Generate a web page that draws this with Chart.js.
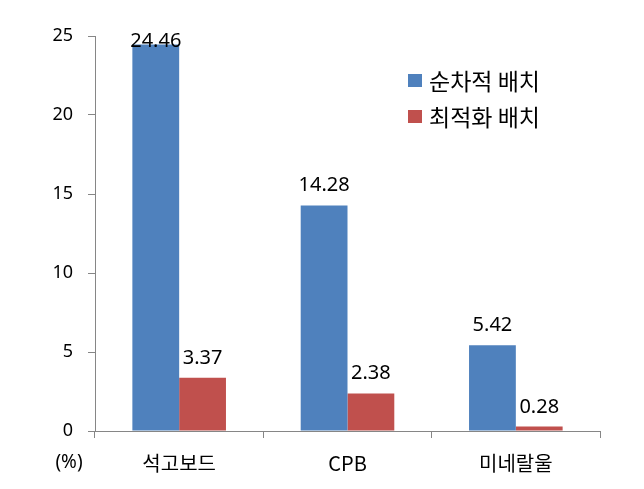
<!DOCTYPE html>
<html>
<head>
<meta charset="utf-8">
<script src="https://cdn.jsdelivr.net/npm/chart.js@4"></script>
<style>
  html, body { margin: 0; padding: 0; background: #fff; }
  #wrap { width: 644px; height: 489px; }
</style>
</head>
<body>
<div id="wrap"><canvas id="chart" width="644" height="489"></canvas></div>
<script>
const categories = ['석고보드', 'CPB', '미네랄울'];
const sequential = [24.46, 14.28, 5.42];
const optimized = [3.37, 2.38, 0.28];
const seriesNames = ['순차적 배치', '최적화 배치'];
const seriesColors = ['#4F81BD', '#C0504D'];
const yTicks = [0, 5, 10, 15, 20, 25];

const KFONT = '"Noto Sans CJK KR", "Noto Sans", sans-serif';
const NFONT = '"Noto Sans", "Noto Sans CJK KR", sans-serif';

// value labels above each bar
const valueLabels = {
    id: 'valueLabels',
    afterDatasetsDraw(chart) {
        const ctx = chart.ctx;
        const top = chart.chartArea.top;
        ctx.save();
        ctx.font = '20px ' + NFONT;
        ctx.fillStyle = '#000';
        ctx.textAlign = 'center';
        ctx.textBaseline = 'alphabetic';
        chart.data.datasets.forEach((ds, i) => {
            chart.getDatasetMeta(i).data.forEach((bar, j) => {
                const y = Math.max(bar.y - 14, top + 11);
                ctx.fillText(ds.data[j].toFixed(2), bar.x, y);
            });
        });
        ctx.restore();
    }
};

// legend inside the plot, top right
const innerLegend = {
    id: 'innerLegend',
    afterDraw(chart) {
        const ctx = chart.ctx;
        ctx.save();
        ctx.font = '23px ' + KFONT;
        ctx.textBaseline = 'middle';
        ctx.textAlign = 'left';
        chart.data.datasets.forEach((ds, i) => {
            const cy = 80 + i * 36;
            ctx.fillStyle = ds.backgroundColor;
            ctx.fillRect(408, cy - 6, 14, 13);
            ctx.fillStyle = '#000';
            ctx.fillText(ds.label, 429, cy + 1);
        });
        ctx.restore();
    }
};

// "(%)" unit label at the bottom left
const unitLabel = {
    id: 'unitLabel',
    afterDraw(chart) {
        const ctx = chart.ctx;
        ctx.save();
        ctx.font = '19px ' + NFONT;
        ctx.fillStyle = '#000';
        ctx.textAlign = 'center';
        ctx.textBaseline = 'middle';
        ctx.fillText('(%)', 69, 463);
        ctx.restore();
    }
};

new Chart(document.getElementById('chart'), {
    type: 'bar',
    data: {
        labels: categories,
        datasets: [
            { label: seriesNames[0], data: sequential, backgroundColor: seriesColors[0] },
            { label: seriesNames[1], data: optimized, backgroundColor: seriesColors[1] }
        ]
    },
    options: {
        responsive: false,
        animation: false,
        layout: { padding: { top: 36, right: 44, left: 0, bottom: 0 } },
        datasets: { bar: { categoryPercentage: 0.556, barPercentage: 1.0 } },
        plugins: {
            legend: { display: false },
            tooltip: { enabled: false }
        },
        scales: {
            x: {
                grid: { display: true, drawOnChartArea: false, offset: true, tickLength: 7, color: '#868686' },
                border: { color: '#868686', width: 1 },
                ticks: { color: '#000', font: { family: KFONT, size: 20 }, padding: 13 },
                afterFit(scale) { scale.height = 58; }
            },
            y: {
                min: 0,
                max: 25,
                afterBuildTicks(scale) { scale.ticks = yTicks.map(v => ({ value: v })); },
                grid: { display: true, drawOnChartArea: false, tickLength: 7, color: '#868686' },
                border: { color: '#868686', width: 1 },
                ticks: { color: '#000', font: { family: NFONT, size: 18 }, padding: 15 },
                afterFit(scale) { scale.width = 95; }
            }
        }
    },
    plugins: [valueLabels, innerLegend, unitLabel]
});
</script>
</body>
</html>
